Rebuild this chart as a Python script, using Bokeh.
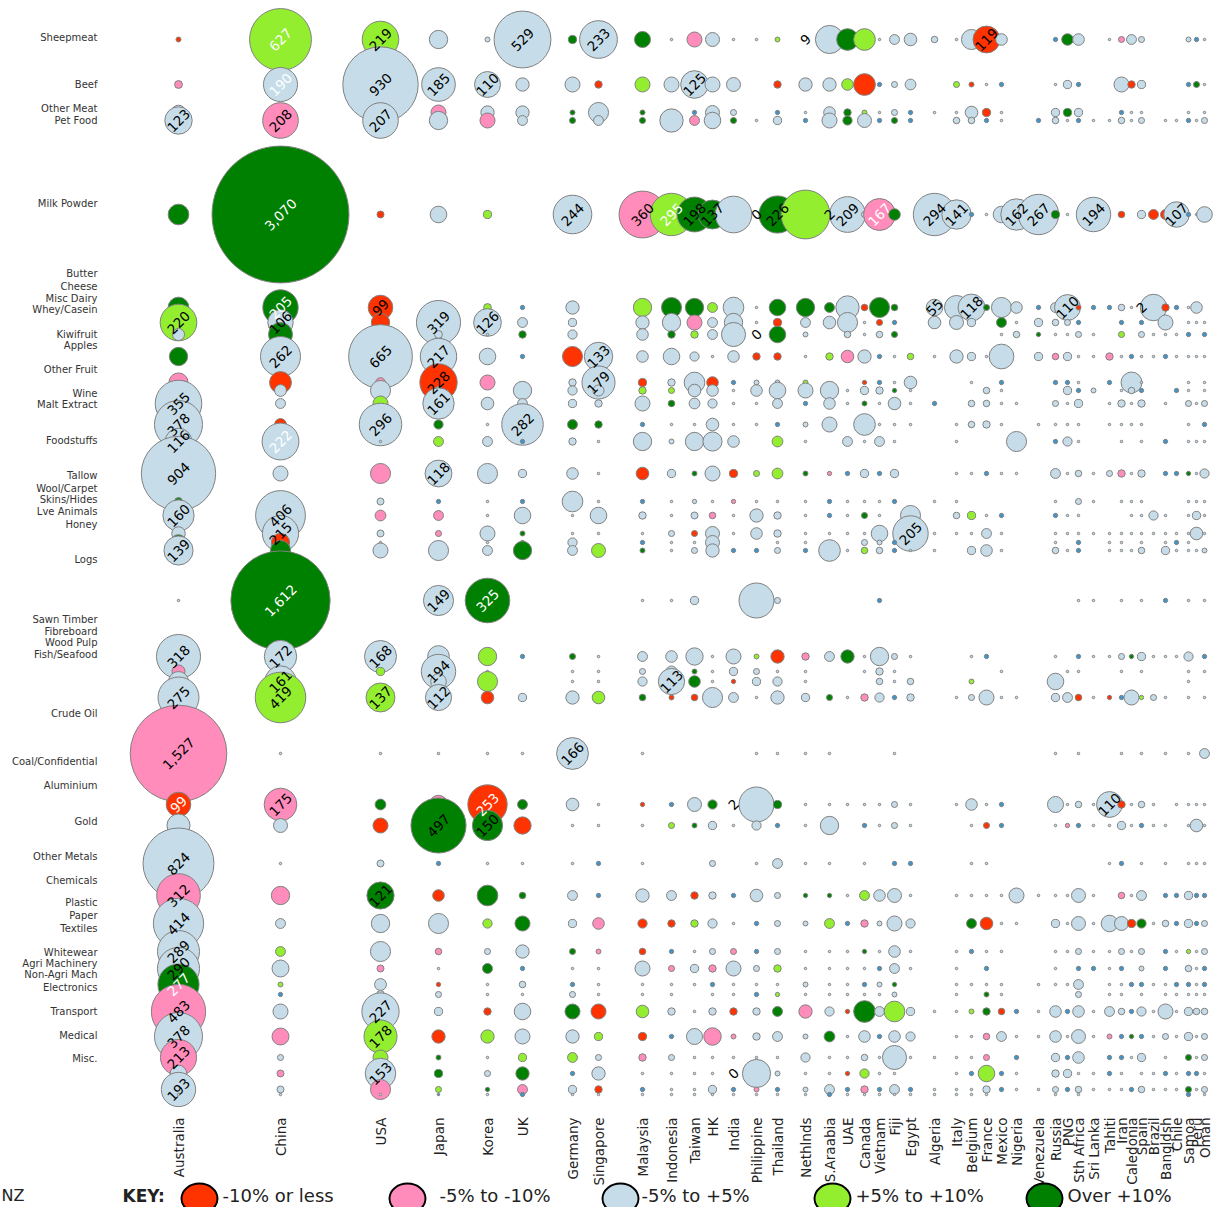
import math
from bokeh.plotting import figure
from bokeh.models import Range1d, ColumnDataSource
from bokeh.embed import file_html
from bokeh.resources import INLINE
from bokeh.core.properties import value

# ---------------- categories ----------------
COMMODITIES = ["Sheepmeat", "Beef", "Other Meat", "Pet Food", "Milk Powder", "Butter", "Cheese",
               "Misc Dairy", "Whey/Casein", "Kiwifruit", "Apples", "Other Fruit", "Wine", "Malt Extract",
               "Foodstuffs", "Tallow", "Wool/Carpet", "Skins/Hides", "Lve Animals", "Honey", "Logs",
               "Sawn Timber", "Fibreboard", "Wood Pulp", "Fish/Seafood", "Crude Oil", "Coal/Confidential",
               "Aluminium", "Gold", "Other Metals", "Chemicals", "Plastic", "Paper", "Textiles", "Whitewear",
               "Agri Machinery", "Non-Agri Mach", "Electronics", "Transport", "Medical", "Misc."]

COUNTRIES = ["Australia", "China", "USA", "Japan", "Korea", "UK", "Germany", "Singapore", "Malaysia",
             "Indonesia", "Taiwan", "HK", "India", "Philippine", "Thailand", "Nethlnds", "S.Araabia", "UAE",
             "Canada", "Vietnam", "Fiji", "Egypt", "Algeria", "Italy", "Belgium", "France", "Mexico", "Nigeria",
             "Venezuela", "Russia", "PNG", "Sth Africa", "Sri Lanka", "Tahiti", "Iran", "Caledonia", "Spain",
             "Brazil", "Bangldsh", "Chile", "Samoa", "Peru", "Oman"]

# growth class codes: R <= -10%, P -5..-10%, B -5..+5%, L +5..+10%, G > +10%, N unclassified, - none
# values (NZ$ m) in commodity order
AUSTRALIA_V = [4,10,35,123, 70, 70,220,24,55, 60,1,355,378,116, 904,10,160,30,40,139, 1, 318,28,65,275, 1527,99,87,824,312, 414,289,290,277,10,483,378,213,45,193,1]
AUSTRALIA_G = "RPBB G GLBG PBBBB BGBBGB B BPBB PRBBP BBBGBPBPBBB"
CHINA_V = [627,190,20,208, 3070, 205,106,94,262, 78,23,16,23,222, 37,0,406,215,55,66, 1612, 172,0,161,419, 1,175,32,1,55, 16,16,47,4,3,37,47,6,8,8,1]
CHINA_G = "LBBP G GBGB RBBRB B-BBRG G B-BL BPBBP BLBLNBPBPBB"
USA_V = [219,930,0,207, 8, 99,55,1,665, 15,66,37,296,1, 66,8,19,8,1,37, 0, 168,11,0,137, 1,19,37,8,121, 55,66,8,23,10,227,178,37,153,66,1]
USA_G = "LB-B R RRBB PBLBB PBPBBB - BL-L BGRBG BBPBBBLLBPB"
JAPAN_V = [55,185,37,55, 45, 20,319,10,217, 228,10,161,14,16, 118,3,16,6,1,66, 149, 77,194,40,112, 1,55,497,3,22, 66,7,1,3,6,11,29,4,11,6,1]
JAPAN_G = "BBPB B BBBB RBBGL BNPPNB B BBBB BPGNR BPBRBBRGGLN"
KOREA_V = [4,110,29,37, 11, 10,126,1,45, 37,0,26,1,16, 66,1,1,37,1,16, 325, 55,1,66,26, 1,253,150,1,70, 14,6,16,1,1,9,29,1,6,3,1]
KOREA_G = "BBBP L LBBB P-BBB BBBBBB G LBLR BRGBG LBGBBRLBBGB"
UK_V = [529,29,29,16, 0, 3,16,9,3, 0,55,16,282,3, 11,3,45,4,3,55, 0, 3,0,0,11, 1,16,49,1,7, 37,29,3,7,1,45,37,11,29,16,3]
UK_G = "BBBB - NBGN -BBBN BNBGNG - N--B BGRBG GBNBBBBLGPN"
GERMANY_V = [11,37,4,6, 244, 29,11,14,66, 9,14,11,16,9, 22,70,1,1,14,16, 0, 6,1,1,29, 166,26,1,1,16, 11,6,1,3,6,37,29,16,3,11,1]
GERMANY_G = "GBGG B BBBR BBBGB BBBBBB - GBBB BBBBB BGBNBGBLNBB"
SINGAPORE_V = [233,9,66,16, 0, 0,0,0,133, 179,20,9,9,1, 1,1,45,1,0,32, 0, 1,1,1,26, 0,1,1,3,3, 22,4,1,1,1,37,11,6,29,9,1]
SINGAPORE_G = "BRBB - ---B BBBGB BBBB-L - BBBL -BBNN PPBBBRLBBRB"
MALAYSIA_V = [42,37,4,6, 360, 55,29,22,22, 11,9,37,3,55, 26,3,9,1,3,4, 1, 16,6,14,7, 1,3,1,1,29, 14,7,37,1,1,26,11,9,1,3,1]
MALAYSIA_G = "GLGG P LBBB RLBNB RNBBNG B BBBG BRBBB RRBBBLRPBNB"
INDONESIA_V = [1,37,3,89, 295, 66,55,9,45, 9,6,7,1,4, 11,1,1,6,1,1, 1, 22,20,113,4, 0,3,6,0,16, 9,3,6,1,1,9,3,6,1,1,1]
INDONESIA_G = "BBNB L GBGB BLGBB BBBBBB B BBBR -NL-B RNPBBBNBBBB"
TAIWAN_V = [37,125,3,16, 198, 55,37,9,14, 70,26,19,1,55, 4,3,8,6,1,6, 11, 49,4,22,7, 0,32,4,0,9, 9,1,11,1,0,1,42,1,1,1,1]
TAIWAN_G = "PBNP G GPLB BBBBB GBBRBB B BGGR -BG-R LBBB-BBBBBB"
HK_V = [32,37,32,45, 137, 16,16,16,1, 22,22,14,26,60, 37,1,7,32,32,29, 0, 1,1,1,66, 0,14,11,6,9, 14,6,9,3,1,9,50,1,1,11,1]
HK_G = "BBBB G LBBB RBBBB BBPBBB - BBBB -GBBB BBPNBBPBBBB"
INDIA_V = [1,32,6,6, 220, 70,55,95,22, 3,1,1,1,22, 11,3,1,1,0,3, 0, 37,11,3,16, 0,0,1,0,3, 1,6,37,1,1,9,4,1,0,3,1]
INDIA_G = "BBBG B BBBB NBBBB RPBB-N - BBRB --B-N BPBBBRPB-NB"
PHILIPPINE_V = [1,0,0,1, 0, 1,1,0,9, 4,22,1,1,0, 6,1,29,22,0,3, 200, 4,6,11,1, 1,200,14,1,26, 3,3,6,1,3,9,9,1,130,4,1]
PHILIPPINE_G = "B--B - BB-R BBBB- LBBB-N B LBBB BBBBB NNBBNBBBBPB"
THAILAND_V = [4,9,3,11, 226, 45,11,45,9, 4,45,16,3,19, 19,1,9,9,1,6, 6, 29,1,14,29, 1,11,3,16,6, 6,6,9,1,3,16,16,1,4,3,1]
THAILAND_G = "LRNB G GRGR BBBNL LBBBBB B RBBB BGNBB BBLBLGBBBNB"
NETHLNDS_V = [0,29,1,3, 390, 55,16,4,1, 4,37,3,4,1, 4,1,1,1,1,3, 0, 9,1,1,11, 1,1,1,1,3, 4,1,1,4,1,29,4,14,1,4,1]
NETHLNDS_G = "-BBN L GBBB LBNBB GBBBBN - PBBB BBBBG BBBBBPBBBBB"
SARAABIA_V = [130,29,22,37, 0, 16,26,0,9, 0,55,22,37,0, 3,3,3,1,1,77, 0, 16,0,0,6, 1,1,55,1,3, 16,1,1,1,1,14,19,1,1,16,3]
SARAABIA_G = "BBBB - GB-L -BBB- PNNBBB - B--G BBBBG LBBBBBGBBBN"
UAE_V = [77,22,9,14, 209, 89,66,7,26, 0,1,1,0,16, 3,1,1,1,0,1, 0, 29,0,0,1, 0,1,0,0,1, 3,1,1,1,1,3,1,1,3,3,1]
UAE_G = "GLGG B BBBP -BB-B NBBB-B - G--B -B--B NBBBBRBBRNB"
CANADA_V = [77,77,4,32, 6, 7,1,1,29, 3,11,4,77,1, 11,1,6,1,6,7, 0, 1,1,0,9, 0,1,3,1,16, 9,3,1,3,1,77,22,7,14,9,1]
CANADA_G = "LRLB B RBBB RBGBB BBGBBL - BB-P -BNBL PGBNBGBBLPB"
VIETNAM_V = [1,3,1,3, 167, 66,6,7,3, 3,9,1,1,16, 3,1,1,45,4,7, 3, 55,9,7,14, 0,1,1,0,22, 4,1,3,4,1,16,3,1,1,3,1]
VIETNAM_G = "BNBN P GRBN NBBBB NBBBBB N BBBB -BB-B BBNBBBNBBNB"
FIJI_V = [16,6,6,6, 22, 7,3,6,1, 1,3,26,1,1, 11,3,0,1,3,3, 0, 6,1,1,3, 1,6,6,3,32, 37,22,16,3,4,70,22,95,1,16,1]
FIJI_G = "BBBG G GNGB BGBBB BN-BNN - BBBN BBBNB BBBGBLBBBBB"
EGYPT_V = [26,19,3,3, 0, 0,0,0,7, 26,1,1,1,0, 0,0,66,205,0,1, 0, 1,0,7,9, 0,1,1,3,1, 14,1,1,0,0,11,14,1,0,3,1]
EGYPT_G = "BBNN - ---L BBBB- --BB-B - B-BB -BBNB BBB--BBB-NB"
ALGERIA_V = [7,0,1,0, 294, 45,26,0,1, 0,0,3,0,0, 0,1,0,1,0,1, 0, 0,0,0,0, 0,0,0,0,0, 0,0,0,0,0,1,0,1,0,1,1]
ALGERIA_G = "B-B- B BB-B --N-- -B-B-B - ---- ----- -----B-B-BB"
ITALY_V = [1,6,1,7, 141, 95,32,0,29, 0,0,0,1,1, 1,1,7,1,0,0, 0, 0,0,0,1, 0,1,0,0,1, 0,1,1,1,1,1,1,1,1,1,1]
ITALY_G = "BLBB B BB-B ---BB BBBB-- - ---B -B--B -BBBBBBBBBB"
BELGIUM_V = [66,4,26,7, 3, 118,11,0,11, 1,0,7,7,0, 1,0,11,1,0,11, 0, 1,0,4,6, 0,22,1,1,1, 16,3,0,1,0,4,1,1,3,1,1]
BELGIUM_G = "BRBB N BB-B B-BB- B-LB-B - B-LB -BBBB GN-B-LBBNBB"
FRANCE_V = [119,1,11,3, 1, 6,0,0,1, 0,7,7,9,0, 3,0,1,16,0,22, 0, 3,0,0,37, 0,1,6,1,1, 26,1,3,1,4,9,7,6,45,9,1]
FRANCE_G = "RBRN B G--B -BBB- N-BB-B - N--B -BRBB RBNBGGPPLBB"
MEXICO_V = [22,3,1,1, 45, 66,16,1,100, 3,1,1,1,0, 1,0,3,1,0,1, 0, 0,1,0,1, 0,3,3,0,1, 1,1,0,1,1,7,16,0,3,3,0]
MEXICO_G = "BNBB B BGBB NBBB- B-NB-B - -B-B -NN-B BB-BBRB-NN-"
NIGERIA_V = [0,0,0,0, 162, 22,1,7,0, 0,0,1,0,66, 1,0,0,0,0,0, 0, 0,0,0,1, 0,0,0,0,37, 1,0,0,0,0,3,1,3,1,1,0]
NIGERIA_G = "---- B BBB- --B-B B----- - ---B ----B B----NBNBB-"
VENEZUELA_V = [0,0,0,3, 267, 3,11,3,11, 0,0,0,1,0, 0,0,0,0,0,0, 0, 0,0,0,0, 0,0,0,0,1, 0,0,0,1,0,1,1,0,0,1,0]
VENEZUELA_G = "---N B NBGB ---B- ------ - ---- ----B ---B-BB--B-"
RUSSIA_V = [3,1,11,7, 11, 16,7,1,7, 3,0,6,1,3, 16,1,3,1,1,7, 0, 1,0,45,11, 1,42,1,0,1, 11,1,1,1,0,22,22,11,9,6,1]
RUSSIA_G = "NBBB G BBBP N-BBN BBNBBB - B-BB BBB-B BBBB-BBBBBB"
PNG_V = [22,11,11,1, 1, 110,6,1,11, 3,11,1,1,14, 1,0,1,1,0,1, 0, 0,1,0,16, 0,1,3,0,1, 1,1,0,1,0,3,1,3,11,3,0]
PNG_G = "GBGB B BBBB NBBBB B-BB-B - -B-B -BP-B BB-B-NBNBN-"
STHAFRICA_V = [22,3,11,3, 0, 4,3,6,1, 1,3,11,1,1, 7,6,1,1,3,3, 1, 3,1,0,7, 1,7,3,0,32, 32,6,3,16,6,22,32,22,1,7,1]
STHAFRICA_G = "BNBN - RNBB BNBBB BBBBNN B NB-R BBN-B BBNBBBBBBBB"
SRILANKA_V = [0,0,0,1, 194, 3,0,1,1, 0,4,0,0,0, 1,1,0,1,0,0, 1, 1,0,0,1, 0,1,1,0,1, 1,1,3,0,0,1,1,0,1,1,0]
SRILANKA_G = "---B B N-BB -B--- BB-B-- B B--B -BB-B BBN--BB-BB-"
TAHITI_V = [1,0,0,1, 0, 3,0,0,9, 3,0,1,1,0, 6,0,0,1,1,1, 0, 1,0,0,3, 0,110,1,1,0, 45,1,1,1,1,16,4,3,3,1,0]
TAHITI_G = "B--B - N--P N-BB- B--BBB - B--R -BBB- BBBBBBPNNB-"
IRAN_V = [6,37,3,7, 7, 7,3,6,1, 0,1,9,1,1, 9,1,0,1,1,1, 1, 6,1,0,3, 1,9,11,3,7, 32,6,3,1,1,7,3,3,1,1,0]
IRAN_G = "PBNB R BNLB -BBBB PB-BBB B BB-N BRBNP BBNBBBNNBB-"
CALEDONIA_V = [16,9,1,1, 0, 1,0,0,3, 72,7,1,1,0, 1,1,1,1,0,1, 0, 3,0,0,37, 0,1,1,0,1, 11,1,0,3,0,3,3,1,0,3,0]
CALEDONIA_G = "BRBB - B--N BBBB- BBBB-B - G--B -BB-B RB-N-NGB-N-"
SPAIN_V = [6,11,1,6, 11, 0,3,6,1, 1,3,9,1,1, 9,1,1,1,1,7, 1, 11,1,0,3, 1,7,3,1,16, 14,6,4,3,1,14,3,11,1,7,0]
SPAIN_G = "BBBB B -NBB BNBBB BBBBBB B BB-L BBNBB GBBNBBNBBB-"
BRAZIL_V = [0,0,0,0, 16, 115,0,1,1, 0,0,0,0,0, 0,0,14,1,0,0, 0, 1,0,0,6, 0,1,1,0,0, 1,0,0,1,0,1,1,0,1,1,0]
BRAZIL_G = "---- R B-BB ----- --BB-- - B--B -BB-- B--B-BB-BB-"
BANGLDSH_V = [0,0,0,1, 16, 9,37,1,3, 0,0,1,0,3, 3,0,1,1,1,11, 3, 1,0,0,1, 1,0,1,1,3, 7,3,3,1,1,37,6,1,3,1,0]
BANGLDSH_G = "---B R RBBN --B-N N-BBBB N B--B B-BBN BNNBBBBBNB-"
CHILE_V = [0,0,0,1, 107, 3,0,1,1, 0,3,0,0,0, 3,0,0,1,3,1, 0, 1,0,0,0, 0,1,0,0,3, 3,1,0,3,1,1,1,0,1,1,0]
CHILE_G = "---B B N-BB -N--- N--BNB - B--- -B--N NB-NBBB-BB-"
SAMOA_V = [4,3,1,3, 3, 1,1,3,1, 1,1,6,1,1, 3,1,1,1,1,1, 1, 14,1,1,1, 1,1,1,1,11, 11,3,7,3,1,11,11,6,3,6,3]
SAMOA_G = "BNBN N BBNB BBBBB GBBBBB B BBBB BBBBB BLBNBBBGNGN"
PERU_V = [3,6,0,1, 1, 22,1,0,1, 0,0,1,0,1, 1,1,11,26,0,1, 0, 0,0,0,0, 0,1,26,1,3, 3,1,1,1,1,7,1,1,3,1,0]
PERU_G = "NG-B B BB-B --B-B BBBB-B - ---- -BBBN NBBBBBBBNB-"
OMAN_V = [1,1,1,6, 40, 0,1,3,1, 1,1,6,3,1, 14,1,1,1,0,4, 1, 3,1,0,1, 16,1,1,1,3, 6,6,3,3,1,7,6,6,1,6,1]
OMAN_G = "BBBB B -BNB BBBNB BBBB-B B NB-B BBBBN BBNNBBBBBBB"

SERIES = [
    (AUSTRALIA_V, AUSTRALIA_G), (CHINA_V, CHINA_G), (USA_V, USA_G), (JAPAN_V, JAPAN_G), (KOREA_V, KOREA_G),
    (UK_V, UK_G), (GERMANY_V, GERMANY_G), (SINGAPORE_V, SINGAPORE_G), (MALAYSIA_V, MALAYSIA_G),
    (INDONESIA_V, INDONESIA_G), (TAIWAN_V, TAIWAN_G), (HK_V, HK_G), (INDIA_V, INDIA_G),
    (PHILIPPINE_V, PHILIPPINE_G), (THAILAND_V, THAILAND_G), (NETHLNDS_V, NETHLNDS_G), (SARAABIA_V, SARAABIA_G),
    (UAE_V, UAE_G), (CANADA_V, CANADA_G), (VIETNAM_V, VIETNAM_G), (FIJI_V, FIJI_G), (EGYPT_V, EGYPT_G),
    (ALGERIA_V, ALGERIA_G), (ITALY_V, ITALY_G), (BELGIUM_V, BELGIUM_G), (FRANCE_V, FRANCE_G),
    (MEXICO_V, MEXICO_G), (NIGERIA_V, NIGERIA_G), (VENEZUELA_V, VENEZUELA_G), (RUSSIA_V, RUSSIA_G),
    (PNG_V, PNG_G), (STHAFRICA_V, STHAFRICA_G), (SRILANKA_V, SRILANKA_G), (TAHITI_V, TAHITI_G),
    (IRAN_V, IRAN_G), (CALEDONIA_V, CALEDONIA_G), (SPAIN_V, SPAIN_G), (BRAZIL_V, BRAZIL_G),
    (BANGLDSH_V, BANGLDSH_G), (CHILE_V, CHILE_G), (SAMOA_V, SAMOA_G), (PERU_V, PERU_G), (OMAN_V, OMAN_G),
]

# bubble labels that are absent / odd in the original
NO_LABEL = {("India", 4), ("Nethlnds", 4), ("S.Araabia", 0), ("Philippine", 20), ("Philippine", 26),
            ("Philippine", 38), ("Mexico", 8), ("Brazil", 5)}
EXTRA_LABELS = [("Nethlnds", 0, "9"), ("Philippine", 4, "0"), ("S.Araabia", 4, "2"), ("Philippine", 7, "0"),
                ("Algeria", 5, "55"), ("Spain", 5, "2"), ("India", 26, "2"), ("India", 38, "0")]
WHITE_LABELS = {("Australia", 26), ("Australia", 33), ("China", 0), ("China", 1), ("China", 4), ("China", 5),
                ("China", 13), ("China", 20), ("Indonesia", 4), ("Vietnam", 4), ("Korea", 20), ("Korea", 26)}

LEGEND_TEXT = ["-10% or less", "-5% to -10%", "-5% to +5%", "+5% to +10%", "Over +10%"]
LEGEND_CODES = ["R", "P", "B", "L", "G"]

# ---------------- layout (pixel positions) ----------------
COL_X = [178, 280, 380, 438, 487, 522, 572, 598, 642, 671, 694, 712, 733, 756, 777, 805, 829, 847, 864, 879,
         894, 910, 934, 956, 971, 986, 1001, 1016, 1038, 1055, 1067, 1078, 1093, 1109, 1121, 1131, 1141, 1153,
         1165, 1176, 1188, 1196, 1204]
ROW_Y = [39, 84, 112, 120, 214, 307, 322, 334, 356, 382, 390, 403, 424, 441, 473, 501, 515, 533, 542, 550,
         600, 656, 671, 681, 697, 753, 804, 825, 863, 895, 923, 951, 968, 984, 994, 1011, 1036, 1057, 1073,
         1089, 1094]
LABEL_Y = [37, 84, 108, 120, 203, 273, 286, 298, 309, 334, 345, 369, 393, 404, 440, 475, 488, 499, 511, 524,
           559, 619, 631, 642, 654, 713, 761, 785, 821, 856, 880, 902, 915, 928, 952, 963, 974, 987, 1011,
           1035, 1058]
LEGEND_X = [199, 407, 620, 832, 1044]
LEGEND_TX = [222, 439, 641, 855, 1067]
KEY_Y = 1195

PALETTE = {"R": "#ff3300", "P": "#ff8cba", "B": "#c6dde9", "L": "#93ee30", "G": "#008000", "N": "#3b95cf"}
K = 1.236  # radius scale: r = K * sqrt(value)
FONT = "DejaVu Sans"

W, H = 1216, 1207
p = figure(width=W, height=H, x_range=Range1d(0, W), y_range=Range1d(H, 0),
           output_backend="svg", toolbar_location=None, x_axis_type=None, y_axis_type=None,
           min_border=0, min_border_left=0, min_border_right=0, min_border_top=0, min_border_bottom=0)
p.grid.visible = False
p.outline_line_color = None
p.background_fill_color = "white"
p.border_fill_color = "white"

bx, by, br, bc = [], [], [], []
lx, ly, lt, lc = [], [], [], []
for ri in range(len(COMMODITIES)):
    for ci, name in enumerate(COUNTRIES):
        vals, grades = SERIES[ci]
        g = grades.replace(" ", "")
        v = vals[ri]
        code = g[ri]
        if v <= 0 or code == "-":
            continue
        bx.append(COL_X[ci]); by.append(ROW_Y[ri]); br.append(K * math.sqrt(v)); bc.append(PALETTE[code])
        if v >= 99 and (name, ri) not in NO_LABEL:
            lx.append(COL_X[ci]); ly.append(ROW_Y[ri]); lt.append(f"{v:,}")
            lc.append("white" if (name, ri) in WHITE_LABELS else "black")

for name, ri, txt in EXTRA_LABELS:
    ci = COUNTRIES.index(name)
    lx.append(COL_X[ci]); ly.append(ROW_Y[ri]); lt.append(txt); lc.append("black")

src = ColumnDataSource(dict(x=bx, y=by, r=br, c=bc))
p.circle(x="x", y="y", radius="r", fill_color="c", line_color="#808080", line_width=1, source=src)

lsrc = ColumnDataSource(dict(x=lx, y=ly, t=lt, c=lc))
p.text(x="x", y="y", text="t", text_color="c", angle=math.pi / 4, text_align="center",
       text_baseline="middle", text_font=value(FONT), text_font_size="13.5px", source=lsrc)

# row labels
p.text(x=[97] * len(COMMODITIES), y=LABEL_Y, text=COMMODITIES, text_align="right", text_baseline="middle",
       text_font=value(FONT), text_font_size="10px", text_color="#333333")

# country labels
p.text(x=COL_X, y=[1117] * len(COUNTRIES), text=COUNTRIES, angle=math.pi / 2, text_align="right",
       text_baseline="middle", text_font=value(FONT), text_font_size="13.5px", text_color="#222222")

# key
p.ellipse(x=LEGEND_X, y=[1198] * 5, width=36, height=30, fill_color=[PALETTE[c] for c in LEGEND_CODES],
          line_color="black", line_width=2)
p.text(x=[1], y=[KEY_Y], text=["NZ"], text_align="left", text_baseline="middle",
       text_font=value(FONT), text_font_size="16px", text_color="#222222")
p.text(x=[122], y=[KEY_Y], text=["KEY:"], text_align="left", text_baseline="middle",
       text_font=value(FONT), text_font_size="17px", text_font_style="bold", text_color="#222222")
p.text(x=LEGEND_TX, y=[KEY_Y] * 5, text=LEGEND_TEXT, text_align="left", text_baseline="middle",
       text_font=value(FONT), text_font_size="18px", text_color="#222222")

open("out.html", "w").write(file_html(p, INLINE))
